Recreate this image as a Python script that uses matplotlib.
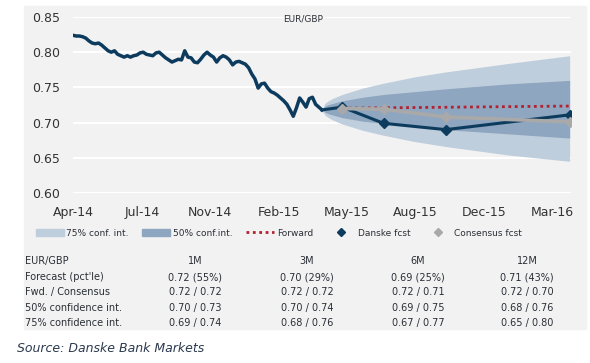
import matplotlib
matplotlib.use("Agg")
import matplotlib.pyplot as plt
import matplotlib.patches as mpatches
from matplotlib.lines import Line2D
import pandas as pd

# EUR/GBP spot (Apr-14 .. mid Apr-15)
spot_start = "2014-04-14"
spot_end = "2015-04-17"
spot = [0.824, 0.823, 0.823, 0.822, 0.820, 0.816, 0.813, 0.812, 0.813, 0.810,
        0.806, 0.802, 0.800, 0.802, 0.797, 0.795, 0.793, 0.795, 0.793, 0.795,
        0.796, 0.799, 0.800, 0.797, 0.796, 0.795, 0.799, 0.800, 0.796, 0.792,
        0.789, 0.786, 0.788, 0.790, 0.789, 0.802, 0.793, 0.792, 0.786, 0.785,
        0.790, 0.796, 0.800, 0.796, 0.793, 0.786, 0.792, 0.795, 0.793, 0.789,
        0.782, 0.786, 0.787, 0.785, 0.783, 0.778, 0.769, 0.762, 0.749, 0.755,
        0.756, 0.749, 0.744, 0.742, 0.739, 0.735, 0.731, 0.726, 0.718, 0.709,
        0.721, 0.735, 0.729, 0.722, 0.734, 0.736, 0.726, 0.722, 0.718]

# forecasts (spot, 1M, 3M, 6M, 12M)
fc_days = [0, 30, 91, 183, 366]
danske = [0.718, 0.722, 0.699, 0.690, 0.711]
consensus = [None, 0.720, 0.719, 0.708, 0.701]
forward = [None, 0.7205, 0.7210, 0.7218, 0.7235]

# confidence cone, edges (days after last spot)
band_days = [0, 4, 8, 15, 30, 60, 91, 137, 183, 275, 366]
ci75_hi = [0.718, 0.727, 0.730, 0.734, 0.740, 0.749, 0.756, 0.765, 0.772, 0.784, 0.795]
ci75_lo = [0.718, 0.711, 0.708, 0.704, 0.698, 0.689, 0.682, 0.673, 0.666, 0.654, 0.645]
ci50_hi = [0.718, 0.723, 0.725, 0.727, 0.731, 0.736, 0.740, 0.744, 0.748, 0.755, 0.760]
ci50_lo = [0.718, 0.715, 0.713, 0.711, 0.707, 0.702, 0.699, 0.694, 0.690, 0.684, 0.678]

tick_labels = ["Apr-14", "Jul-14", "Nov-14", "Feb-15", "May-15", "Aug-15", "Dec-15", "Mar-16"]

table_head = ["EUR/GBP", "1M", "3M", "6M", "12M"]
table_rows = [
    ["Forecast (pct'le)", "0.72 (55%)", "0.70 (29%)", "0.69 (25%)", "0.71 (43%)"],
    ["Fwd. / Consensus", "0.72 / 0.72", "0.72 / 0.72", "0.72 / 0.71", "0.72 / 0.70"],
    ["50% confidence int.", "0.70 / 0.73", "0.70 / 0.74", "0.69 / 0.75", "0.68 / 0.76"],
    ["75% confidence int.", "0.69 / 0.74", "0.68 / 0.76", "0.67 / 0.77", "0.65 / 0.80"],
]

navy = "#0d3b5e"
grey = "#a9a9a9"
red = "#b3202e"
c75 = "#bfcedd"
c50 = "#8fa6c0"
panel = "#f2f2f2"
txt = "#2a2f36"

W, H = 590, 363
fig = plt.figure(figsize=(W / 100, H / 100), dpi=100)
fig.patch.set_facecolor("white")
fig.patches.append(mpatches.Rectangle((24 / W, 1 - 329 / H), (586 - 24) / W, (329 - 6) / H,
                                      transform=fig.transFigure, color=panel, zorder=-1))

ax = fig.add_axes([73 / W, 1 - 193 / H, (571 - 73) / W, (193 - 17) / H])
ax.set_zorder(1)
ax.set_facecolor(panel)

spot_dates = pd.date_range(spot_start, spot_end, periods=len(spot))
end = pd.Timestamp(spot_end)
fc_dates = [end + pd.Timedelta(days=d) for d in fc_days]
band_dates = [end + pd.Timedelta(days=d) for d in band_days]

ax.fill_between(band_dates, ci75_lo, ci75_hi, color=c75, lw=0, zorder=2)
ax.fill_between(band_dates, ci50_lo, ci50_hi, color=c50, lw=0, zorder=3)

ax.plot(spot_dates, spot, color=navy, lw=2.5, zorder=5)
ax.plot(fc_dates, danske, color=navy, lw=2.2, zorder=5)
ax.plot(fc_dates[1:], danske[1:], ls="none", marker="D", ms=5, color=navy, zorder=6)
ax.plot(fc_dates[1:], forward[1:], color=red, lw=2, ls=(0, (1, 1.3)), zorder=6)
ax.plot(fc_dates[1:], consensus[1:], color=grey, lw=2.6, marker="D", ms=5, zorder=7)

ax.set_ylim(0.60, 0.85)
ax.set_yticks([0.60, 0.65, 0.70, 0.75, 0.80, 0.85])
ax.set_yticklabels(["0.60", "0.65", "0.70", "0.75", "0.80", "0.85"])
ax.set_xlim(pd.Timestamp(spot_start), end + pd.Timedelta(days=368))
ticks = pd.date_range("2014-04-15", periods=len(tick_labels), freq="101D")
ax.set_xticks(ticks)
ax.set_xticklabels(tick_labels)
ax.tick_params(length=0, labelsize=9, colors="#333333")
ax.tick_params(axis="y", pad=9.5)
ax.tick_params(axis="x", pad=9)
ax.grid(axis="y", color="white", lw=1.5, zorder=1)
ax.set_axisbelow(True)
for s in ax.spines.values():
    s.set_visible(False)

fig.text(303 / W, 1 - 19 / H, "EUR/GBP", ha="center", va="center",
         fontsize=6.5, color=txt, zorder=3)

handles = [
    mpatches.Patch(color=c75),
    mpatches.Patch(color=c50),
    Line2D([], [], color=red, lw=2, ls=(0, (1, 1.3))),
    Line2D([], [], ls="none", marker="D", ms=4, color=navy),
    Line2D([], [], ls="none", marker="D", ms=4, color=grey),
]
labels = ["75% conf. int.", "50% conf.int.", "Forward", "Danske fcst", "Consensus fcst"]
leg = fig.legend(handles, labels, ncol=5, loc="center", bbox_to_anchor=(279 / W, 1 - 233 / H),
                 frameon=False, fontsize=6.5, handlelength=3.1, handleheight=0.7,
                 handletextpad=0.3, columnspacing=1.5)
for t in leg.get_texts():
    t.set_color(txt)

# table under the chart
col_x = [25, 195, 307, 418, 527]
row_y = [261, 277, 292, 308, 323]
for r, row in enumerate([table_head] + table_rows):
    for c, val in enumerate(row):
        fig.text(col_x[c] / W, 1 - row_y[r] / H, val, ha="left" if c == 0 else "center",
                 va="center", fontsize=7, color=txt)

fig.text(17 / W, 1 - 349 / H, "Source: Danske Bank Markets", ha="left", va="center",
         fontsize=9, style="italic", color="#2b3a4f")

fig.savefig("out.png", dpi=100, facecolor=fig.get_facecolor())
